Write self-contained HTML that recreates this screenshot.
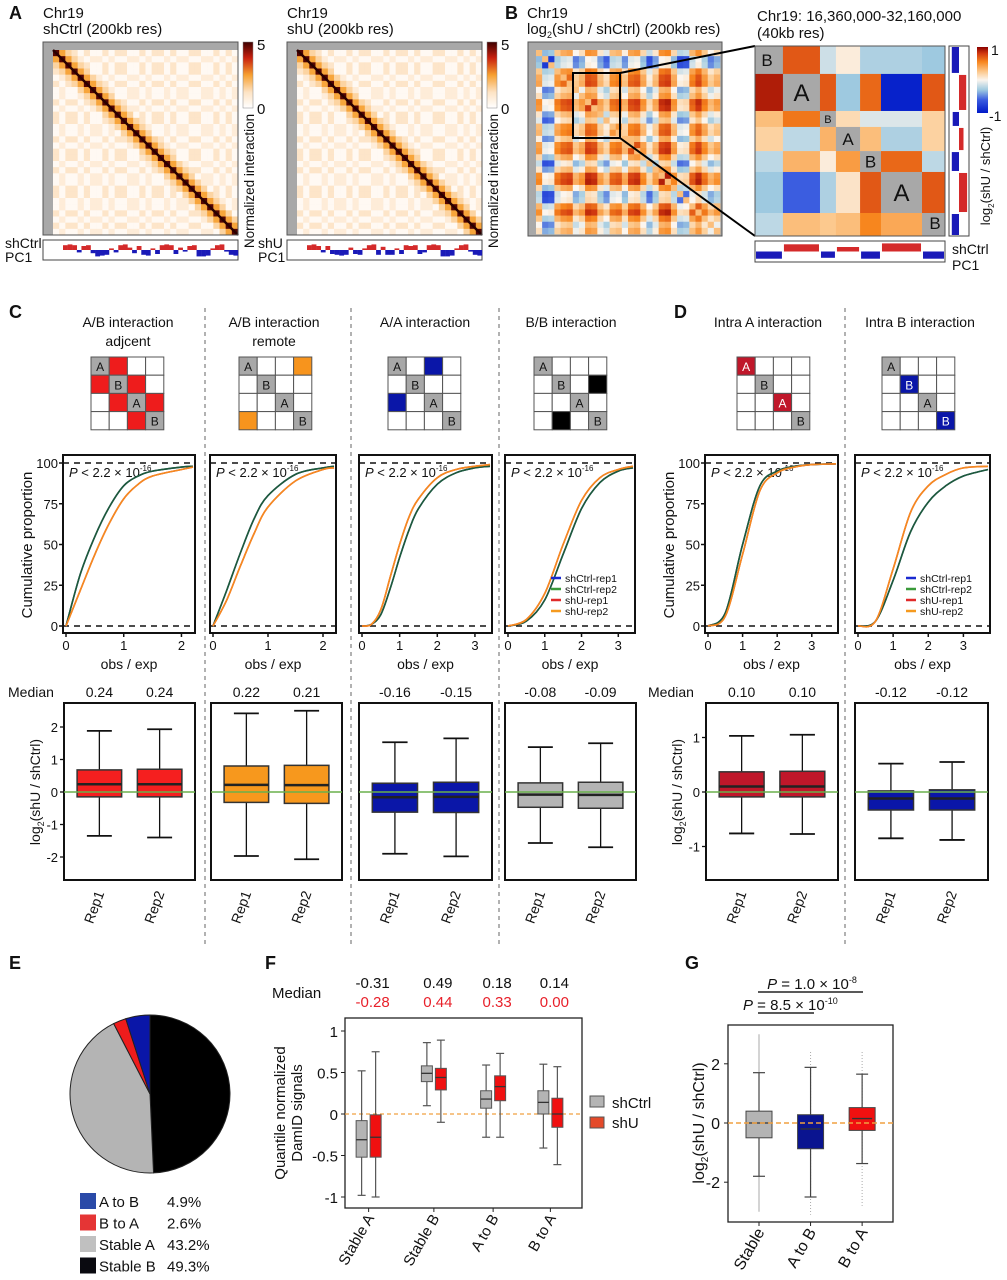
<!DOCTYPE html>
<html><head><meta charset="utf-8"><style>
html,body{margin:0;padding:0;background:#fff;}
svg{display:block;font-family:"Liberation Sans",sans-serif;}
</style></head><body>
<svg id="fig" width="1007" height="1280" viewBox="0 0 1007 1280" xmlns="http://www.w3.org/2000/svg"></svg>
<script>
// ---------- DATA ----------
const compA = [1,-1,1,1,-1,1,-1,-1,1,-1,1,1,-1,-1,1,-1,1,1,-1,1,-1,-1,1,1,-1,-1,1,-1,1,-1];
const ratioDelta = [0.1,-0.5,-0.45,0.2,0.35,0.4,-0.1,0.05,0.5,0.45,0.0,-0.2,0.25,0.3,-0.05,0.4,0.45,0.1,-0.3,0.0,0.5,0.55,0.1,-0.35,-0.3,0.3,0.5,0.2,-0.1,0.05];
const pcCtrl = [0.6,0.7,0.6,-0.3,0.5,0.6,-0.4,-0.8,-0.7,-0.6,0.2,-0.3,0.6,0.7,0.3,-0.4,0.5,-0.6,-0.7,0.2,-0.5,0.6,0.7,0.6,-0.5,0.3,-0.2,0.5,0.6,-0.8,-0.8,-0.7,0.2,0.6,0.7,-0.2,-0.6,-0.7];
const pcShU = [0.6,0.7,0.5,-0.3,0.5,-0.5,-0.6,-0.7,-0.6,0.3,-0.5,-0.6,0.2,0.6,0.7,-0.6,0.4,-0.6,-0.6,0.2,-0.5,0.6,0.5,0.6,-0.5,-0.3,0.6,0.7,0.6,-0.8,-0.8,-0.7,0.2,0.6,0.7,-0.2,-0.6,-0.7];
const blockEdges = [0,0.147,0.342,0.426,0.553,0.663,0.879,1];
const blockLabels = ['B','A','B','A','B','A','B'];
const blockVals = [
 [0,0.7,-0.15,0.05,-0.25,-0.25,-0.3],
 [0.9,0,0.7,-0.3,0.65,-0.95,0.7],
 [0.3,0.6,0,0.15,-0.1,-0.1,0.2],
 [0.2,-0.2,0.35,0,0.3,-0.25,0.2],
 [-0.2,0.35,0.05,0.45,0,0.65,-0.2],
 [-0.3,-0.6,-0.25,0.1,0.7,0,0.7],
 [-0.2,0.3,0.25,0.3,0.55,0.4,0]];
const blockPC = [-0.8,0.8,-0.7,0.5,-0.8,0.9,-0.8];

// CDF panels
const cdfX_C1=[0,0.25,0.5,0.75,1,1.25,1.5,2,2.2];
const cdfCtrl_C1=[0,32,55,73,86,92,95,97.5,98];
const cdfShU_C1=[0,22,44,63,78,87,92,96,97.5];
const cdfX_C2=[0,0.25,0.5,0.75,1,1.5,2,2.2];
const cdfCtrl_C2=[0,22,45,66,80,93,97,98];
const cdfShU_C2=[0,16,37,57,73,89,96,97];
const cdfX_C3=[0,0.25,0.5,0.75,1,1.25,1.5,2,2.5,3,3.4];
const cdfCtrl_C3=[0,1,7,23,42,59,72,87,94,97,98];
const cdfShU_C3=[0,1,10,30,50,67,78,91,96,98,99];
const cdfX_C4=[0,0.5,1,1.5,2,2.5,3,3.4];
const cdfCtrl_C4=[0,3,16,44,72,88,95,97];
const cdfShU_C4=[0,4,20,50,77,91,96,98];
const cdfX_D1=[0,0.5,1,1.5,2,2.5,3,3.7];
const cdfCtrl_D1=[0,8,50,86,95,98,99,99.5];
const cdfShU_D1=[0,6,44,83,94,97.5,99,99.5];
const cdfX_D2=[0,0.5,1,1.5,2,2.5,3,3.7];
const cdfCtrl_D2=[0,3,28,58,76,86,92,96];
const cdfShU_D2=[0,3,35,70,86,93,97,98];
const cdfXTicks_2=[0,1,2];
const cdfXTicks_3=[0,1,2,3];
const cdfYTicks=[0,25,50,75,100];

// box stats [q1,med,q3,lo,hi] rep1 / rep2
const boxC1=[[-0.15,0.24,0.68,-1.35,1.88],[-0.15,0.24,0.70,-1.40,1.93]];
const boxC2=[[-0.32,0.22,0.80,-1.97,2.42],[-0.35,0.21,0.82,-2.07,2.50]];
const boxC3=[[-0.62,-0.16,0.27,-1.90,1.53],[-0.63,-0.15,0.30,-1.98,1.65]];
const boxC4=[[-0.47,-0.08,0.28,-1.57,1.38],[-0.50,-0.09,0.30,-1.70,1.50]];
const boxD1=[[-0.09,0.10,0.37,-0.76,1.03],[-0.09,0.10,0.38,-0.77,1.05]];
const boxD2=[[-0.33,-0.12,0.02,-0.85,0.52],[-0.33,-0.12,0.04,-0.88,0.55]];
const medianLabels=[['0.24','0.24'],['0.22','0.21'],['-0.16','-0.15'],['-0.08','-0.09'],['0.10','0.10'],['-0.12','-0.12']];
const boxYTicksC=[-2,-1,0,1,2];
const boxYTicksD=[-1,0,1];

// Pie
const pieLabels=['Stable B','Stable A','B to A','A to B'];
const pieValues=[49.3,43.2,2.6,4.9];
const legendOrder=['A to B','B to A','Stable A','Stable B'];
const legendPct=['4.9%','2.6%','43.2%','49.3%'];

// F
const fCats=['Stable A','Stable B','A to B','B to A'];
const fCtrl=[[-0.52,-0.31,-0.08,-0.98,0.52],[0.39,0.49,0.58,0.10,0.86],[0.07,0.18,0.28,-0.28,0.59],[0.00,0.14,0.28,-0.41,0.60]];
const fShU=[[-0.52,-0.28,-0.01,-1.00,0.75],[0.29,0.44,0.55,-0.10,0.89],[0.16,0.33,0.46,-0.28,0.73],[-0.16,0.00,0.19,-0.61,0.57]];
const fMedCtrl=['-0.31','0.49','0.18','0.14'];
const fMedShU=['-0.28','0.44','0.33','0.00'];
const fYTicks=[-1,-0.5,0,0.5,1];
const fYTickLabels=['-1','-0.5','0','0.5','1'];

// G
const gCats=['Stable','A to B','B to A'];
const gBox=[[-0.50,0.00,0.40,-1.80,1.70],[-0.87,-0.20,0.28,-2.50,1.88],[-0.25,0.15,0.52,-1.37,1.65]];
const gOut=[[-3.0,3.0],[-3.1,2.4],[-2.8,2.4]];
const gYTicks=[-2,0,2];

// ---------- HELPERS ----------
const NS='http://www.w3.org/2000/svg';
const svg=document.getElementById('fig');
function mk(tag,attrs,parent){const e=document.createElementNS(NS,tag);for(const k in attrs)e.setAttribute(k,attrs[k]);(parent||svg).appendChild(e);return e;}
function txt(x,y,s,size,attrs,parent){const a=Object.assign({x:x,y:y,'font-size':size,fill:'#111'},attrs||{});const t=mk('text',a,parent);t.textContent=s;return t;}
function lerp(a,b,t){return a+(b-a)*t;}
function mixHex(c1,c2,t){const p=c=>[parseInt(c.slice(1,3),16),parseInt(c.slice(3,5),16),parseInt(c.slice(5,7),16)];const a=p(c1),b=p(c2);return 'rgb('+a.map((v,i)=>Math.round(lerp(v,b[i],t))).join(',')+')';}
function ramp(stops,v){for(let i=0;i<stops.length-1;i++){if(v<=stops[i+1][0]){const t=(v-stops[i][0])/(stops[i+1][0]-stops[i][0]);return mixHex(stops[i][1],stops[i+1][1],Math.max(0,Math.min(1,t)));}}return stops[stops.length-1][1];}
const heatStops=[[0,'#ffffff'],[1.2,'#fde3c4'],[2.5,'#f7a030'],[3.8,'#c8200e'],[5,'#3d0000']];
const ratioStops=[[-1,'#0019c8'],[-0.6,'#3b5de0'],[-0.3,'#9ec9e0'],[0,'#fbf5ee'],[0.25,'#fcc98e'],[0.55,'#f7861e'],[0.8,'#d33a10'],[1,'#8a0000']];
function heatColor(v){return ramp(heatStops,v);}
function ratioColor(v){return ramp(ratioStops,Math.max(-1,Math.min(1,v)));}
function smoothPath(pts){
  let d='M'+pts[0][0].toFixed(1)+','+pts[0][1].toFixed(1);
  for(let i=0;i<pts.length-1;i++){
    const p0=pts[Math.max(0,i-1)],p1=pts[i],p2=pts[i+1],p3=pts[Math.min(pts.length-1,i+2)];
    const c1=[p1[0]+(p2[0]-p0[0])/6,p1[1]+(p2[1]-p0[1])/6],c2=[p2[0]-(p3[0]-p1[0])/6,p2[1]-(p3[1]-p1[1])/6];
    d+=' C'+c1[0].toFixed(1)+','+c1[1].toFixed(1)+' '+c2[0].toFixed(1)+','+c2[1].toFixed(1)+' '+p2[0].toFixed(1)+','+p2[1].toFixed(1);
  }
  return d;
}
function panelLabel(x,y,s){const t=txt(x,y,s,18,{'font-weight':'bold'});}

// ---------- PANEL A ----------
panelLabel(9,19,'A');
function hicMap(x0,name,title){
  const g=mk('g',{});
  
  
  const t1=txt(x0,18,'Chr19',15,{},g);
  
  
  const t2=txt(x0,34,title,15,{},g);
  
  
  mk('rect',{x:x0,y:42,width:195,height:193,fill:'#a8a8a8'},g);
  const n=compA.length, ix=x0+10, iy=50, cw=185/n, ch=185/n;
  for(let i=0;i<n;i++)for(let j=0;j<n;j++){
    const d=Math.abs(i-j);
    let v=d===0?4.8:d===1?2.4:d===2?1.5:(compA[i]===compA[j]?(compA[i]>0?1.1:0.8):0.25);
    const r=mk('rect',{x:ix+j*cw,y:iy+i*ch,width:cw+0.3,height:ch+0.3,fill:heatColor(v)},g);
    
    
  }
  mk('line',{x1:ix,y1:iy,x2:ix+185,y2:iy+185,stroke:'#2a0000','stroke-width':2.5},g);
  mk('rect',{x:x0,y:42,width:195,height:193,fill:'none',stroke:'#555','stroke-width':1},g);
  const grad=mk('linearGradient',{id:'hg'+name,x1:0,y1:1,x2:0,y2:0},mk('defs',{},g));
  heatStops.forEach(s=>mk('stop',{offset:s[0]/5,'stop-color':s[1]},grad));
  const cb=mk('rect',{x:x0+200,y:42,width:10,height:66,fill:'url(#hg'+name+')',stroke:'#888','stroke-width':0.5},g);
  
  
  txt(x0+214,50,'5',15,{},g);
  txt(x0+214,114,'0',15,{},g);
  const cl=txt(0,0,'Normalized interaction',13.5,{transform:'translate('+(x0+211)+',181) rotate(-90)','text-anchor':'middle'},g);
  
  
}
function pcTrack(x0,y0,w,h,vals,name){
  const g=mk('g',{});
  
  
  mk('rect',{x:x0,y:y0,width:w,height:h,fill:'#fff',stroke:'#444','stroke-width':1},g);
  const n=vals.length;
  const cy=y0+h/2, bw=(w-20)/n;
  vals.forEach((v,i)=>{const hh=Math.abs(v)*(h/2-2);const r=mk('rect',{x:x0+20+i*bw,y:v>0?cy-hh:cy,width:bw+0.2,height:hh,fill:v>0?'#d42a2a':'#1a1ab8'},g);
    
    });
}
hicMap(43,'shctrl','shCtrl (200kb res)');
hicMap(287,'shu','shU (200kb res)');
pcTrack(43,240,195,20,pcCtrl,'shctrl-pc1-track');
pcTrack(287,240,195,20,pcShU,'shu-pc1-track');
[['shCtrl',5,248],['PC1',5,262],['shU',258,248],['PC1',258,262]].forEach(a=>{const t=txt(a[1],a[2],a[0],14);});

// ---------- PANEL B ----------
panelLabel(505,19,'B');
(function(){
  const g=mk('g',{});
  
  
  txt(527,18,'Chr19',15,{},g);
  const t=txt(527,34,'log',15,{},g);
  const s1=mk('tspan',{'font-size':9,dy:4},t);s1.textContent='2';
  const s2=mk('tspan',{dy:-4},t);s2.textContent='(shU / shCtrl) (200kb res)';
  mk('rect',{x:528,y:42,width:194,height:194,fill:'#a8a8a8'},g);
  const n=ratioDelta.length, ix=536, iy=50, c=184/n;
  for(let i=0;i<n;i++)for(let j=0;j<n;j++){
    const v=i===j?0.3:(ratioDelta[i]+ratioDelta[j])*0.85;
    const r=mk('rect',{x:ix+j*c,y:iy+i*c,width:c+0.3,height:c+0.3,fill:ratioColor(v)},g);
    
    
  }
  mk('rect',{x:528,y:42,width:194,height:194,fill:'none',stroke:'#555'},g);
  const zb=mk('rect',{x:573,y:73,width:47,height:65,fill:'none',stroke:'#000','stroke-width':2},g);
  
  
  mk('line',{x1:620,y1:73,x2:755,y2:46,stroke:'#000','stroke-width':2},g);
  mk('line',{x1:620,y1:138,x2:755,y2:236,stroke:'#000','stroke-width':2},g);
})();
(function(){
  const g=mk('g',{});
  
  
  txt(757,21,'Chr19: 16,360,000-32,160,000',15,{},g);
  txt(757,38,'(40kb res)',15,{},g);
  const X0=755,Y0=46,S=190;
  const e=blockEdges.map(v=>v*S);
  for(let i=0;i<7;i++)for(let j=0;j<7;j++){
    const fill=i===j?'#a8a8a8':ratioColor(blockVals[i][j]);
    const r=mk('rect',{x:X0+e[j],y:Y0+e[i],width:e[j+1]-e[j]+0.3,height:e[i+1]-e[i]+0.3,fill:fill},g);
    
    
  }
  blockLabels.forEach((l,i)=>{
    const w=e[i+1]-e[i];const fs=w>35?24:w>20?17:11;
    const cx=X0+(i===0?e[i]+12:i===6?e[i+1]-10:e[i]+w/2);
    const cy=Y0+(i===0?e[i]+20:i===6?e[i+1]-7:e[i]+w/2+fs*0.36);
    const t=txt(cx,cy,l,fs,{'text-anchor':'middle'},g);
    
    
  });
  mk('rect',{x:X0,y:Y0,width:S,height:S,fill:'none',stroke:'#555'},g);
  mk('rect',{x:949,y:46,width:20,height:190,fill:'#fff',stroke:'#444'},g);
  blockPC.forEach((v,i)=>{const w=Math.abs(v)*9;const r=mk('rect',{x:v>0?959:959-w,y:Y0+e[i]+1,width:w,height:e[i+1]-e[i]-2,fill:v>0?'#d42a2a':'#1a1ab8'},g);
    
    });
  mk('rect',{x:755,y:241,width:190,height:21,fill:'#fff',stroke:'#444'},g);
  blockPC.forEach((v,i)=>{const h=Math.abs(v)*9;const r=mk('rect',{x:X0+e[i]+1,y:v>0?251.5-h:251.5,width:e[i+1]-e[i]-2,height:h,fill:v>0?'#d42a2a':'#1a1ab8'},g);
    
    });
  txt(952,254,'shCtrl',14,{},g);
  txt(952,270,'PC1',14,{},g);
  const grad=mk('linearGradient',{id:'rg',x1:0,y1:1,x2:0,y2:0},mk('defs',{},g));
  ratioStops.forEach(s=>mk('stop',{offset:(s[0]+1)/2,'stop-color':s[1]},grad));
  const cb=mk('rect',{x:977,y:47,width:11,height:66,fill:'url(#rg)'},g);
  
  
  txt(991,55,'1',14,{},g);
  txt(989,121,'-1',14,{},g);
  const lab=txt(0,0,'log',13,{transform:'translate(990,176) rotate(-90)','text-anchor':'middle'},g);
  const a=mk('tspan',{'font-size':8,dy:4},lab);a.textContent='2';
  const b=mk('tspan',{dy:-4},lab);b.textContent='(shU / shCtrl)';
})();

// ---------- PANELS C/D ----------
panelLabel(9,318,'C');
panelLabel(674,318,'D');
[205,351,499,845].forEach(x=>{const l=mk('line',{x1:x,y1:308,x2:x,y2:945,stroke:'#888','stroke-width':1.3,'stroke-dasharray':'4,4'});});

const panels=[
 {name:'ab-adjacent',title:['A/B interaction','adjcent'],tcx:128,gx:91,hl:[[0,1],[1,0],[1,2],[2,1],[2,3],[3,2]],hc:'#ee1c1c',
  px:63,pw:132,xmax:2.2,xt:cdfXTicks_2,cx:cdfX_C1,c1:cdfCtrl_C1,c2:cdfShU_C1,box:boxC1,bx:[64,195],yt:boxYTicksC,ys:32.5,fill:'#f51f1f',leftAxis:true},
 {name:'ab-remote',title:['A/B interaction','remote'],tcx:274,gx:239,hl:[[0,3],[3,0]],hc:'#f7941d',
  px:210,pw:126,xmax:2.2,xt:cdfXTicks_2,cx:cdfX_C2,c1:cdfCtrl_C2,c2:cdfShU_C2,box:boxC2,bx:[211,342],yt:boxYTicksC,ys:32.5,fill:'#f7981d'},
 {name:'aa',title:['A/A interaction'],tcx:425,gx:388,hl:[[0,2],[2,0]],hc:'#0a16a8',
  px:359,pw:133,xmax:3.4,xt:cdfXTicks_3,cx:cdfX_C3,c1:cdfCtrl_C3,c2:cdfShU_C3,box:boxC3,bx:[359,492],yt:boxYTicksC,ys:32.5,fill:'#0a16a8'},
 {name:'bb',title:['B/B interaction'],tcx:571,gx:534,hl:[[1,3],[3,1]],hc:'#000000',
  px:505,pw:130,xmax:3.4,xt:cdfXTicks_3,cx:cdfX_C4,c1:cdfCtrl_C4,c2:cdfShU_C4,box:boxC4,bx:[505,636],yt:boxYTicksC,ys:32.5,fill:'#b4b4b4',legend:true},
 {name:'intra-a',title:['Intra A interaction'],tcx:768,gx:737,hl:[[0,0],[2,2]],hc:'#c0172a',
  px:705,pw:133,xmax:3.7,xt:cdfXTicks_3,cx:cdfX_D1,c1:cdfCtrl_D1,c2:cdfShU_D1,box:boxD1,bx:[706,838],yt:boxYTicksD,ys:54.5,fill:'#c0172a',leftAxis:true},
 {name:'intra-b',title:['Intra B interaction'],tcx:920,gx:882,hl:[[1,1],[3,3]],hc:'#0a16a8',
  px:855,pw:135,xmax:3.7,xt:cdfXTicks_3,cx:cdfX_D2,c1:cdfCtrl_D2,c2:cdfShU_D2,box:boxD2,bx:[855,988],yt:boxYTicksD,ys:54.5,fill:'#0a16a8',legend:true}
];
const diagL=['A','B','A','B'];
panels.forEach((p,pi)=>{
  const g=mk('g',{});
  
  
  p.title.forEach((s,k)=>{const t=txt(p.tcx,327+k*19,s,14,{'text-anchor':'middle'},g);});
  const cs=18.2,gy=357;
  for(let i=0;i<4;i++)for(let j=0;j<4;j++){
    const hl=p.hl.some(h=>h[0]===i&&h[1]===j);
    const fill=hl?p.hc:(i===j?'#a8a8a8':'#fff');
    const r=mk('rect',{x:p.gx+j*cs,y:gy+i*cs,width:cs,height:cs,fill:fill,stroke:'#555','stroke-width':1},g);
    
    
    if(i===j){txt(p.gx+j*cs+cs/2,gy+i*cs+cs/2+5,diagL[i],12,{'text-anchor':'middle',fill:hl?'#fff':'#111'},g);}
  }
  const top=455,bot=633,y100=463,y0=626;
  const sx=v=>p.px+3+v/p.xmax*(p.pw-5), sy=v=>y0-(v/100)*(y0-y100);
  mk('rect',{x:p.px,y:top,width:p.pw,height:bot-top,fill:'#fff',stroke:'#111','stroke-width':2},g);
  [0,100].forEach(v=>mk('line',{x1:p.px,x2:p.px+p.pw,y1:sy(v),y2:sy(v),stroke:'#111','stroke-width':1.5,'stroke-dasharray':'6,5'},g));
  const pl=txt(p.px+6,477,'',13,{},g);
  const a1=mk('tspan',{'font-style':'italic'},pl);a1.textContent='P';
  const a2=mk('tspan',{},pl);a2.textContent=' < 2.2 × 10';
  const a3=mk('tspan',{'font-size':8,dy:-6},pl);a3.textContent='-16';
  
  
  function curve(xs,ys,col,nm){
    const pts=xs.map((x,i)=>[sx(x),sy(ys[i])]);
    const path=mk('path',{d:smoothPath(pts),fill:'none',stroke:col,'stroke-width':1.6,'stroke-linejoin':'round'},g);
    
    
  }
  curve(p.cx,p.c1,'#1f4b8a','cdf-shctrl-rep1');
  curve(p.cx,p.c1,'#1e5a3a','cdf-shctrl-rep2');
  curve(p.cx,p.c2,'#e03a2a','cdf-shu-rep1');
  curve(p.cx,p.c2,'#f58a1f','cdf-shu-rep2');
  p.xt.forEach(v=>{mk('line',{x1:sx(v),x2:sx(v),y1:bot,y2:bot+4,stroke:'#111','stroke-width':1.5},g);
    const t=txt(sx(v),650,String(v),13,{'text-anchor':'middle'},g);});
  const xl=txt(p.px+p.pw/2,669,'obs / exp',14,{'text-anchor':'middle'},g);
  
  
  if(p.leftAxis){
    cdfYTicks.forEach(v=>{mk('line',{x1:p.px-4,x2:p.px,y1:sy(v),y2:sy(v),stroke:'#111','stroke-width':1.5},g);
      const t=txt(p.px-5,sy(v)+5,String(v),13,{'text-anchor':'end'},g);});
    const yl=txt(0,0,'Cumulative proportion',15,{transform:'translate('+(p.px-31)+',545) rotate(-90)','text-anchor':'middle'},g);
    
    
  }
  if(p.legend){
    const ln=[['shCtrl-rep1','#1a2ad0'],['shCtrl-rep2','#3a9a3a'],['shU-rep1','#e02a2a'],['shU-rep2','#f59a1f']];
    ln.forEach((l,k)=>{const y=578+k*11;mk('line',{x1:p.px+p.pw-84,x2:p.px+p.pw-74,y1:y,y2:y,stroke:l[1],'stroke-width':2.5},g);
      const t=txt(p.px+p.pw-70,y+4,l[0],10.5,{},g);});
  }
  const btop=703,bbot=880,yz=792;
  const by=v=>yz-v*p.ys;
  mk('rect',{x:p.bx[0],y:btop,width:p.bx[1]-p.bx[0],height:bbot-btop,fill:'#fff',stroke:'#111','stroke-width':2},g);
  const w=p.bx[1]-p.bx[0], cxs=[p.bx[0]+w*0.27,p.bx[0]+w*0.73];
  p.box.forEach((b,k)=>{
    const cx=cxs[k],bw=w*0.34;
    mk('line',{x1:cx,x2:cx,y1:by(b[4]),y2:by(b[3]),stroke:'#111','stroke-width':1.3},g);
    [b[3],b[4]].forEach(v=>mk('line',{x1:cx-bw*0.28,x2:cx+bw*0.28,y1:by(v),y2:by(v),stroke:'#111','stroke-width':1.8},g));
    const r=mk('rect',{x:cx-bw/2,y:by(b[2]),width:bw,height:by(b[0])-by(b[2]),fill:p.fill,stroke:'#333','stroke-width':1.5},g);
    
    
    mk('line',{x1:cx-bw/2,x2:cx+bw/2,y1:by(b[1]),y2:by(b[1]),stroke:'#222','stroke-width':2.5},g);
    const ml=txt(cx,697,medianLabels[pi][k],14,{'text-anchor':'middle'},g);
    
    
    const rl=txt(0,0,'Rep'+(k+1),14,{transform:'translate('+(cx+5)+',893) rotate(-70)','text-anchor':'end'},g);
    
    
  });
  mk('line',{x1:p.bx[0],x2:p.bx[1],y1:by(0),y2:by(0),stroke:'#6ab04c','stroke-width':1.6},g);
  if(p.leftAxis){
    p.yt.forEach(v=>{mk('line',{x1:p.bx[0]-4,x2:p.bx[0],y1:by(v),y2:by(v),stroke:'#111','stroke-width':1.3},g);
      const t=txt(p.bx[0]-6,by(v)+5,String(v),13,{'text-anchor':'end'},g);});
    const yl=txt(0,0,'log',14,{transform:'translate('+(p.bx[0]-24)+',792) rotate(-90)','text-anchor':'middle'},g);
    const s1=mk('tspan',{'font-size':9,dy:4},yl);s1.textContent='2';
    const s2=mk('tspan',{dy:-4},yl);s2.textContent='(shU / shCtrl)';
    
    
    const md=txt(pi===0?8:648,697,'Median',14,{},g);
    
    
  }
});

// ---------- PANEL E ----------
panelLabel(9,969,'E');
(function(){
  const g=mk('g',{});
  
  
  const cx=150,cy=1094,rx=80,ry=79;
  const cols={'Stable B':'#000000','Stable A':'#b4b4b4','B to A':'#ee1c1c','A to B':'#0a16a8'};
  const tot=pieValues.reduce((a,b)=>a+b,0);let ang=0;
  pieValues.forEach((v,i)=>{
    const a0=ang,a1=ang+v/tot*2*Math.PI;ang=a1;
    const p0=[cx+rx*Math.sin(a0),cy-ry*Math.cos(a0)],p1=[cx+rx*Math.sin(a1),cy-ry*Math.cos(a1)];
    const large=(a1-a0)>Math.PI?1:0;
    const s=mk('path',{d:'M'+cx+','+cy+' L'+p0[0]+','+p0[1]+' A'+rx+','+ry+' 0 '+large+' 1 '+p1[0]+','+p1[1]+' Z',fill:cols[pieLabels[i]],stroke:'#222','stroke-width':1},g);
    
    
  });
  const lc={'A to B':'#2a4aa8','B to A':'#e53535','Stable A':'#c0c0c0','Stable B':'#0a0a10'};
  legendOrder.forEach((l,k)=>{
    const y=1193+k*21.5;
    mk('rect',{x:80,y:y,width:16,height:16,fill:lc[l]},g);
    const t=txt(99,y+14,l,15,{},g);
    
    
    const pc=txt(167,y+14,legendPct[k],15,{},g);
    
    
  });
})();

// ---------- PANEL F ----------
panelLabel(265,969,'F');
(function(){
  const g=mk('g',{});
  
  
  const x0=345,x1=582,top=1018,bot=1208,yz=1114,ys=83;
  const by=v=>yz-v*ys;
  mk('rect',{x:x0,y:top,width:x1-x0,height:bot-top,fill:'#fff',stroke:'#222','stroke-width':1.3},g);
  mk('line',{x1:x0,x2:x1,y1:by(0),y2:by(0),stroke:'#f0a040','stroke-width':1.2,'stroke-dasharray':'4,3'},g);
  fYTicks.forEach((v,k)=>{mk('line',{x1:x0-4,x2:x0,y1:by(v),y2:by(v),stroke:'#222'},g);
    const t=txt(x0-7,by(v)+6,fYTickLabels[k],15,{'text-anchor':'end'},g);});
  const step=(x1-x0)/4;
  fCats.forEach((c,i)=>{
    const gc=x0+step*(i+0.5)-(i===0?6:i===3?2:0);
    [[fCtrl[i],gc-7,'#b4b4b4','ctrl'],[fShU[i],gc+7,'#f01010','shu']].forEach(s=>{
      const b=s[0],cx=s[1],bw=11;
      mk('line',{x1:cx,x2:cx,y1:by(b[4]),y2:by(b[3]),stroke:'#555','stroke-width':1.2},g);
      [b[3],b[4]].forEach(v=>mk('line',{x1:cx-4,x2:cx+4,y1:by(v),y2:by(v),stroke:'#555','stroke-width':1.2},g));
      const r=mk('rect',{x:cx-bw/2,y:by(b[2]),width:bw,height:by(b[0])-by(b[2]),fill:s[2],stroke:'#555','stroke-width':1},g);
      
      
      mk('line',{x1:cx-bw/2,x2:cx+bw/2,y1:by(b[1]),y2:by(b[1]),stroke:'#333','stroke-width':1.3},g);
    });
    mk('line',{x1:gc,x2:gc,y1:bot,y2:bot+4,stroke:'#222'},g);
    const t=txt(0,0,c,15,{transform:'translate('+(gc+6)+','+(bot+10)+') rotate(-60)','text-anchor':'end'},g);
    
    
    const m1=txt(gc+4,988,fMedCtrl[i],15,{'text-anchor':'middle'},g);
    
    
    const m2=txt(gc+4,1007,fMedShU[i],15,{'text-anchor':'middle',fill:'#e8202a'},g);
    
    
  });
  txt(272,998,'Median',15,{},g);
  const yl1=txt(0,0,'Quantile normalized',15,{transform:'translate(285,1113) rotate(-90)','text-anchor':'middle'},g);
  
  
  txt(0,0,'DamID signals',15,{transform:'translate(302,1113) rotate(-90)','text-anchor':'middle'},g);
  mk('rect',{x:590,y:1096,width:14,height:11,fill:'#b4b4b4',stroke:'#555'},g);
  mk('rect',{x:590,y:1117,width:14,height:11,fill:'#e44a2a',stroke:'#555'},g);
  const l1=txt(612,1108,'shCtrl',15,{},g);
  const l2=txt(612,1128,'shU',15,{},g);
})();

// ---------- PANEL G ----------
panelLabel(685,969,'G');
(function(){
  const g=mk('g',{});
  
  
  const x0=728,x1=893,top=1025,bot=1222,yz=1123,ys=29.6;
  const by=v=>yz-v*ys;
  mk('rect',{x:x0,y:top,width:x1-x0,height:bot-top,fill:'#fff',stroke:'#222','stroke-width':1.3},g);
  gYTicks.forEach(v=>{mk('line',{x1:x0-4,x2:x0,y1:by(v),y2:by(v),stroke:'#222'},g);
    const t=txt(x0-8,by(v)+6,String(v),16,{'text-anchor':'end'},g);});
  const cols=['#b4b4b4','#0a1490','#f01010'];
  const step=(x1-x0)/3.2;
  gCats.forEach((c,i)=>{
    const cx=759+i*step,b=gBox[i],bw=26;
    mk('line',{x1:cx,x2:cx,y1:by(gOut[i][1]),y2:by(gOut[i][0]),stroke:'#aaa','stroke-width':1,'stroke-dasharray':i?'1,2':''},g);
    mk('line',{x1:cx,x2:cx,y1:by(b[4]),y2:by(b[3]),stroke:'#444','stroke-width':1.2},g);
    [b[3],b[4]].forEach(v=>mk('line',{x1:cx-6,x2:cx+6,y1:by(v),y2:by(v),stroke:'#444','stroke-width':1.2},g));
    const r=mk('rect',{x:cx-bw/2,y:by(b[2]),width:bw,height:by(b[0])-by(b[2]),fill:cols[i],stroke:'#444','stroke-width':1},g);
    
    
    mk('line',{x1:cx-bw/2+3,x2:cx+bw/2-3,y1:by(b[1]),y2:by(b[1]),stroke:'#333','stroke-width':1.3},g);
    mk('line',{x1:cx,x2:cx,y1:bot,y2:bot+4,stroke:'#222'},g);
    const t=txt(0,0,c,16,{transform:'translate('+(cx+6)+','+(bot+10)+') rotate(-60)','text-anchor':'end'},g);
    
    
  });
  mk('line',{x1:x0,x2:x1,y1:by(0),y2:by(0),stroke:'#f0a040','stroke-width':1.5,'stroke-dasharray':'5,3'},g);
  function pv(x,y,exp,anchor){const t=txt(x,y,'',15,{'text-anchor':anchor},g);
    const a=mk('tspan',{'font-style':'italic'},t);a.textContent='P';
    const b=mk('tspan',{},t);b.textContent=' = '+exp[0]+' × 10';
    const c=mk('tspan',{'font-size':9,dy:-6},t);c.textContent=exp[1];
    
    }
  pv(812,989,['1.0','-8'],'middle');
  mk('line',{x1:758,x2:863,y1:992,y2:992,stroke:'#222','stroke-width':1.5},g);
  pv(743,1010,['8.5','-10'],'start');
  mk('line',{x1:758,x2:814,y1:1013,y2:1013,stroke:'#222','stroke-width':1.5},g);
  const yl=txt(0,0,'log',16,{transform:'translate(704,1123) rotate(-90)','text-anchor':'middle'},g);
  const s1=mk('tspan',{'font-size':10,dy:4},yl);s1.textContent='2';
  const s2=mk('tspan',{dy:-4},yl);s2.textContent='(shU / shCtrl)';
  
  
})();
</script>
</body></html>
